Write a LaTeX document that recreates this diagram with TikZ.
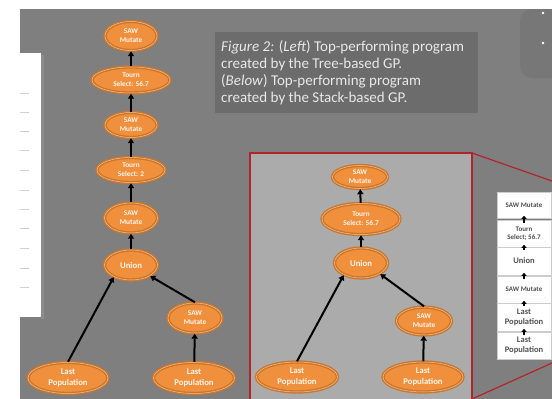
\documentclass[tikz,border=0pt]{standalone}
\usepackage{fontspec}
\setmainfont{Carlito}
\usetikzlibrary{shapes.geometric,arrows.meta}
\definecolor{bgc}{HTML}{7F7F7F}
\definecolor{capbg}{HTML}{6C6C6C}
\definecolor{cornerbg}{HTML}{777777}
\definecolor{boxgray}{HTML}{ABABAB}
\definecolor{redc}{HTML}{B0252B}
\definecolor{orf}{HTML}{F0903C}
\definecolor{ord}{HTML}{C9772F}
\definecolor{orl}{HTML}{F7C08A}
\definecolor{captxt}{HTML}{E8E8E8}
\definecolor{stxt}{HTML}{505050}
\begin{document}
\begin{tikzpicture}[x=1pt,y=-1pt,
  tnode/.style={ellipse, fill=orf, draw=ord, line width=1.4pt, double=orl, double distance=0.5pt,
    inner sep=0pt, text=white!92!orf, align=center, font=\bfseries\fontsize{7.3}{8.8}\selectfont},
  lpnode/.style={tnode, font=\bfseries\fontsize{8.7}{10.5}\selectfont},
  unode/.style={tnode, font=\bfseries\fontsize{8.7}{10}\selectfont},
  arr/.style={-{Triangle[width=6pt,length=5pt]}, line width=2pt, black},
  sbox/.style={rectangle, draw=black!20, fill=white, line width=0.6pt, minimum width=54pt,
    inner sep=0pt, text=stxt, align=center, font=\bfseries\fontsize{7}{8.5}\selectfont},
  sarr/.style={-{Triangle[width=5pt,length=3pt]}, line width=1.4pt, black},
  tick/.style={black!18, line width=0.8pt}
]
\useasboundingbox (0,0) rectangle (552,399);
\clip (0,0) rectangle (552,399);
% background
\fill[bgc] (0,0) rectangle (552,399);
\fill[white] (0,0) rectangle (552,9);
\fill[white] (0,0) rectangle (20,399);
% left white panel
\fill[black!45] (41,55) rectangle (44,319);
\fill[white] (20,53) rectangle (41,317);
\foreach \yy in {93,112,131,150,170,190,209,228,248,268,287}
  \draw[tick] (20,\yy) -- (29,\yy);
% top right corner panel
\fill[cornerbg, rounded corners=12pt] (520,9) rectangle (580,78);
\fill[white] (543,13) circle (1.3pt);
\fill[white] (543,43) circle (1.3pt);
% caption
\node[anchor=north west, fill=capbg, minimum width=263pt, minimum height=81pt, inner sep=0pt] (cap) at (215,32) {};
\node[anchor=north west, text=captxt, align=left, inner sep=0pt,
  font=\fontsize{15}{17}\selectfont] (captext) at (221,40)
  {\textit{Figure 2:} (\textit{Left}) Top-performing program\\
   created by the Tree-based GP.\\
   (\textit{Below}) Top-performing program\\
   created by the Stack-based GP.};
% left tree
\node[tnode, minimum width=52pt, minimum height=29pt] (t1) at (131,36) {SAW\\Mutate};
\node[tnode, minimum width=78pt, minimum height=26pt] (t2) at (131,80) {Tourn\\Select: 56.7};
\node[tnode, minimum width=52pt, minimum height=25pt] (t3) at (131,125) {SAW\\Mutate};
\node[tnode, minimum width=68pt, minimum height=25pt] (t4) at (131,170) {Tourn\\Select: 2};
\node[tnode, minimum width=53pt, minimum height=30pt] (t5) at (131,218) {SAW\\Mutate};
\node[unode, minimum width=53pt, minimum height=30pt] (t6) at (131,265) {Union};
\node[tnode, minimum width=54pt, minimum height=30pt] (t7) at (195,318) {SAW\\Mutate};
\node[lpnode, minimum width=80pt, minimum height=31pt] (t8) at (68,378) {Last\\Population};
\node[lpnode, minimum width=81pt, minimum height=31pt] (t9) at (194,378) {Last\\Population};
\draw[arr] (t2) -- (t1);
\draw[arr] (t3) -- (t2);
\draw[arr] (t4) -- (t3);
\draw[arr] (t5) -- (t4);
\draw[arr] (t6) -- (t5);
\draw[arr] (t8.north) -- (t6.215);
\draw[arr] (t7.north) -- (t6.-30);
\draw[arr] (t9) -- (t7);
% red zoom box
\draw[redc, line width=1.2pt] (472,153) -- (552,181);
\draw[redc, line width=1.2pt] (472,399) -- (552,363);
\draw[redc, line width=1.5pt, fill=boxgray] (250,153) rectangle (472,403);
% right tree
\node[tnode, minimum width=55pt, minimum height=23pt] (r1) at (360,177) {SAW\\Mutate};
\node[tnode, minimum width=78pt, minimum height=31pt] (r2) at (361,219) {Tourn\\Select: 56.7};
\node[unode, minimum width=53pt, minimum height=30pt] (r3) at (361,263) {Union};
\node[tnode, minimum width=55pt, minimum height=28pt] (r4) at (424,321) {SAW\\Mutate};
\node[lpnode, minimum width=81pt, minimum height=30pt] (r5) at (297,377) {Last\\Population};
\node[lpnode, minimum width=80pt, minimum height=30pt] (r6) at (423,377) {Last\\Population};
\draw[arr] (r2) -- (r1);
\draw[arr] (r3) -- (r2);
\draw[arr] (r5.north) -- (r3.215);
\draw[arr] (r4.north) -- (r3.-30);
\draw[arr] (r6) -- (r4);
% stack
\node[sbox, minimum height=26pt] (s1) at (524,205) {SAW Mutate};
\node[sbox, minimum height=27pt] (s2) at (524,233.5) {Tourn\\Select; 56.7};
\node[sbox, minimum height=28pt, font=\bfseries\fontsize{8.5}{10}\selectfont] (s3) at (524,261) {Union};
\node[sbox, minimum height=27pt] (s4) at (524,289.5) {SAW Mutate};
\node[sbox, minimum height=28pt, font=\bfseries\fontsize{8.5}{10}\selectfont] (s5) at (524,317) {Last\\Population};
\node[sbox, minimum height=27pt, font=\bfseries\fontsize{8.5}{10}\selectfont] (s6) at (524,345.5) {Last\\Population};
\draw[sarr] ([yshift=-3pt]s2.north) -- ([yshift=2.5pt]s1.south);
\draw[sarr] ([yshift=-3pt]s3.north) -- ([yshift=2.5pt]s2.south);
\draw[sarr] ([yshift=-3pt]s4.north) -- ([yshift=2.5pt]s3.south);
\draw[sarr] ([yshift=-3pt]s5.north) -- ([yshift=2.5pt]s4.south);
\draw[sarr] ([yshift=-3pt]s6.north) -- ([yshift=2.5pt]s5.south);
\end{tikzpicture}
\end{document}
